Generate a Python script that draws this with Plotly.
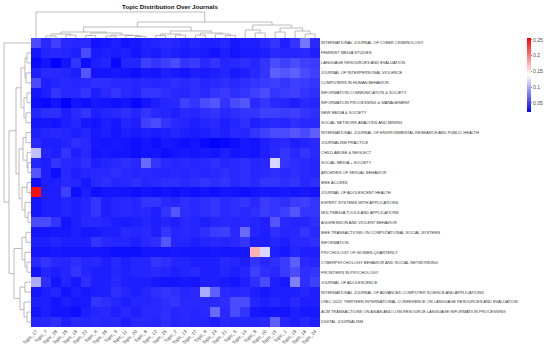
import plotly.graph_objects as go

topics = ["Topic_17","Topic_7","Topic_28","Topic_29","Topic_18","Topic_22","Topic_4","Topic_26",
          "Topic_3","Topic_11","Topic_20","Topic_6","Topic_12","Topic_25","Topic_2","Topic_13",
          "Topic_27","Topic_9","Topic_23","Topic_21","Topic_5","Topic_14","Topic_8","Topic_10",
          "Topic_15","Topic_1","Topic_19","Topic_16","Topic_24"]

journals = [
    "INTERNATIONAL JOURNAL OF CYBER CRIMINOLOGY",
    "FEMINIST MEDIA STUDIES",
    "LANGUAGE RESOURCES AND EVALUATION",
    "JOURNAL OF INTERPERSONAL VIOLENCE",
    "COMPUTERS IN HUMAN BEHAVIOR",
    "INFORMATION COMMUNICATION & SOCIETY",
    "INFORMATION PROCESSING & MANAGEMENT",
    "NEW MEDIA & SOCIETY",
    "SOCIAL NETWORK ANALYSIS AND MINING",
    "INTERNATIONAL JOURNAL OF ENVIRONMENTAL RESEARCH AND PUBLIC HEALTH",
    "JOURNALISM PRACTICE",
    "CHILD ABUSE & NEGLECT",
    "SOCIAL MEDIA + SOCIETY",
    "ARCHIVES OF SEXUAL BEHAVIOR",
    "IEEE ACCESS",
    "JOURNAL OF ADOLESCENT HEALTH",
    "EXPERT SYSTEMS WITH APPLICATIONS",
    "MULTIMEDIA TOOLS AND APPLICATIONS",
    "AGGRESSION AND VIOLENT BEHAVIOR",
    "IEEE TRANSACTIONS ON COMPUTATIONAL SOCIAL SYSTEMS",
    "INFORMATION",
    "PSYCHOLOGY OF WOMEN QUARTERLY",
    "CYBERPSYCHOLOGY BEHAVIOR AND SOCIAL NETWORKING",
    "FRONTIERS IN PSYCHOLOGY",
    "JOURNAL OF ADOLESCENCE",
    "INTERNATIONAL JOURNAL OF ADVANCED COMPUTER SCIENCE AND APPLICATIONS",
    "LREC 2022: THIRTEEN INTERNATIONAL CONFERENCE ON LANGUAGE RESOURCES AND EVALUATION",
    "ACM TRANSACTIONS ON ASIAN AND LOW-RESOURCE LANGUAGE INFORMATION PROCESSING",
    "DIGITAL JOURNALISM",
]

# topic shares per journal (thousandths), rows = journals, cols = topics (display order)
share_milli = [
    [55,40,50,40,38,40,30,32,35,30,32,36,38,40,38,35,38,35,35,38,32,35,35,40,45,35,45,75,40],
    [30,38,40,38,35,55,33,35,33,35,30,35,33,38,35,33,35,33,30,35,30,33,33,35,40,38,38,40,35],
    [25,30,22,30,45,28,35,38,25,38,38,50,45,50,55,45,48,40,45,38,40,42,38,45,55,50,55,50,48],
    [35,40,40,38,35,60,30,30,32,30,28,32,30,35,33,30,35,33,35,38,33,35,40,45,65,60,65,55,50],
    [55,35,38,40,38,40,42,42,40,40,38,40,38,40,42,40,42,38,40,42,40,42,45,48,50,45,50,48,45],
    [30,35,45,40,40,45,35,40,45,40,38,45,45,42,40,38,42,40,45,48,42,45,50,55,45,48,50,45,42],
    [28,25,30,22,30,28,32,30,28,30,25,30,35,38,40,50,45,55,60,45,55,60,40,45,40,38,35,40,38],
    [38,42,42,35,40,45,35,38,40,42,38,45,40,38,35,40,38,42,45,40,42,45,45,50,50,48,50,45,42],
    [30,32,30,35,38,32,30,35,32,38,35,50,55,45,40,38,35,38,40,35,38,42,35,38,40,38,42,40,40],
    [35,38,40,38,35,38,32,35,30,35,32,35,33,35,38,35,33,35,38,35,40,38,45,50,55,55,60,55,65],
    [40,35,35,38,42,40,32,30,32,30,28,30,28,32,30,28,30,25,22,25,28,32,30,35,38,40,35,38,40],
    [110,38,35,45,35,40,30,32,30,30,28,30,30,28,30,32,30,32,30,35,30,32,30,35,40,45,40,45,40],
    [38,35,45,40,38,42,35,38,40,42,40,70,45,40,38,40,38,40,42,38,40,42,38,40,120,45,42,40,38],
    [60,35,28,40,35,38,40,40,42,40,38,40,38,38,40,38,40,38,40,42,40,42,38,40,42,40,42,40,38],
    [28,35,35,40,38,32,40,42,38,40,42,38,40,42,42,40,42,45,42,45,40,42,40,45,45,42,45,40,42],
    [250,35,35,50,28,35,28,30,30,30,28,30,28,30,28,30,28,30,28,30,30,28,30,32,30,32,30,32,30],
    [30,35,35,38,35,38,45,35,38,40,38,45,45,40,38,42,40,42,45,40,42,45,40,48,45,42,48,50,45],
    [30,35,35,38,35,38,45,35,38,40,38,40,35,45,60,42,40,42,45,40,42,40,42,48,45,50,60,45,45],
    [55,55,45,30,35,40,40,38,35,33,35,38,35,38,35,40,38,35,38,40,38,40,38,35,60,40,38,38,42],
    [30,30,32,32,35,32,33,35,35,40,38,40,35,45,38,40,38,42,48,50,40,70,38,35,42,38,40,45,40],
    [35,35,38,35,35,35,45,40,38,38,35,40,42,60,38,38,35,38,40,38,40,45,35,35,38,35,40,40,42],
    [30,30,32,30,30,30,30,30,28,28,28,30,30,30,32,30,30,30,32,30,30,32,175,120,35,32,38,35,35],
    [40,45,40,38,42,38,40,35,40,35,38,38,45,42,38,38,35,35,35,40,38,35,45,40,42,48,65,40,38],
    [30,38,35,38,45,38,35,35,38,36,38,38,40,38,35,38,40,35,35,38,35,38,50,42,40,48,55,42,45],
    [100,42,30,38,32,42,35,35,40,35,35,35,32,30,30,32,30,35,35,33,30,35,42,55,35,32,80,42,50],
    [30,35,38,30,35,32,35,35,42,38,35,38,42,45,42,38,40,100,65,40,38,40,35,32,35,35,35,38,35],
    [35,35,30,35,32,33,45,42,38,35,38,38,40,42,45,40,40,40,40,42,55,55,38,35,38,35,40,35,35],
    [30,35,30,30,28,35,38,40,35,40,35,40,40,42,38,40,38,40,70,40,55,45,32,30,30,30,35,32,32],
    [38,40,42,35,40,38,40,38,40,35,40,40,38,42,38,40,38,38,35,40,38,38,38,40,65,38,35,40,35],
]

# dendrogram trees: (height, left, right); ints = leaf index in display order
col_tree = (26, 0,
            (16,
             (11,
              (6, (4, (2, 1, 2), (3, 3, 4)), (5, (2.5, 5, 6), (3, (2, 7, 8), (2.5, 9, (1.5, 10, 11))))),
              (7, (4, (2.5, 12, 13), (3, 14, 15)), (5, (3, 16, 17), (4, 18, (2.5, 19, 20))))),
             (13,
              (8, 21, (5, 22, 23)),
              (10, (6, 24, 25), (7, 26, (4, 27, 28))))))

row_tree = (27, 0,
            (22,
             (15,
              (10, (6, (4, 1, 2), (5, 3, 4)), (7, (4, 5, 6), (5, 7, 8))),
              (12, (8, (5, 9, 10), (4, 11, (3, 12, 13))), (9, (4, 14, 15), (6, 16, (3, 17, 18))))),
             (17,
              (9, (5, 19, 20), (6, 21, (4, 22, 23))),
              (11, (6, 24, 25), (7, 26, (4, 27, 28))))))


def dendro_segments(node):
    xs, ys = [], []

    def walk(n):
        if isinstance(n, int):
            return n, 0.0
        h, a, b = n
        pa, ha = walk(a)
        pb, hb = walk(b)
        xs.extend([pa, pa, pb, pb, None])
        ys.extend([ha, h, h, hb, None])
        return (pa + pb) / 2.0, h

    walk(node)
    return xs, ys


W, H = 550, 351
hx0, hx1, hy0, hy1 = 31, 320, 38, 327

z = [[v / 1000.0 for v in row] for row in share_milli]
n = len(topics)
m = len(journals)

bwr = [[0.0, "rgb(0,0,255)"], [0.5, "rgb(255,255,255)"], [1.0, "rgb(255,0,0)"]]
font_family = "Liberation Sans, Arial"

fig = go.Figure()
fig.add_trace(go.Heatmap(
    z=z, x=list(range(n)), y=list(range(m)),
    colorscale=bwr, zmin=0.021, zmax=0.256,
    xaxis="x", yaxis="y",
    colorbar=dict(
        x=527 / W, xanchor="left", y=1 - 38 / H, yanchor="top",
        lenmode="pixels", len=74, thickness=4, outlinewidth=0, xpad=0, ypad=0,
        tickvals=[0.05, 0.1, 0.15, 0.2, 0.25], ticktext=["0.05", "0.1", "0.15", "0.2", "0.25"],
        tickfont=dict(size=5, color="#444", family=font_family),
        ticks="outside", ticklen=1.5, tickcolor="#888", tickwidth=0.5,
    ),
    hoverinfo="skip",
))

cx, cy = dendro_segments(col_tree)
fig.add_trace(go.Scatter(x=cx, y=cy, mode="lines", line=dict(color="#aaaaaa", width=0.8),
                         xaxis="x2", yaxis="y2", hoverinfo="skip", showlegend=False))
ry, rx = dendro_segments(row_tree)
fig.add_trace(go.Scatter(x=rx, y=ry, mode="lines", line=dict(color="#aaaaaa", width=0.8),
                         xaxis="x3", yaxis="y3", hoverinfo="skip", showlegend=False))

fx0, fx1 = hx0 / W, hx1 / W
fy0, fy1 = 1 - hy1 / H, 1 - hy0 / H

fig.update_layout(
    width=W, height=H,
    margin=dict(l=0, r=0, t=0, b=0, autoexpand=False),
    paper_bgcolor="white", plot_bgcolor="white",
    showlegend=False,
    font=dict(family=font_family, color="#222"),
    title=dict(text="<b>Topic Distribution Over Journals</b>", x=170 / W, xanchor="center",
               y=1 - 7 / H, yanchor="middle", font=dict(size=6.2, color="#111", family=font_family)),
    xaxis=dict(domain=[fx0, fx1], range=[-0.5, n - 0.5], anchor="y", automargin=False,
               tickmode="array", tickvals=list(range(n)), ticktext=topics, tickangle=-45,
               tickfont=dict(size=4.5, color="#333"), showgrid=False, zeroline=False,
               ticks="", showline=False),
    yaxis=dict(domain=[fy0, fy1], range=[m - 0.5, -0.5], anchor="x", side="right", automargin=False,
               tickmode="array", tickvals=list(range(m)), ticktext=journals,
               tickfont=dict(size=4, color="#333"), showgrid=False, zeroline=False,
               ticks="", showline=False),
    xaxis2=dict(domain=[fx0, fx1], range=[-0.5, n - 0.5], anchor="y2", visible=False, automargin=False),
    yaxis2=dict(domain=[fy1, 1 - 10 / H], range=[0, 28], anchor="x2", visible=False, automargin=False),
    xaxis3=dict(domain=[0, fx0], range=[31, 0], anchor="y3", visible=False, automargin=False),
    yaxis3=dict(domain=[fy0, fy1], range=[m - 0.5, -0.5], anchor="x3", visible=False, automargin=False),
)

fig.write_html("out.html",
               config={"displayModeBar": False},
               post_script="document.body.style.margin='0';document.body.style.padding='0';")
